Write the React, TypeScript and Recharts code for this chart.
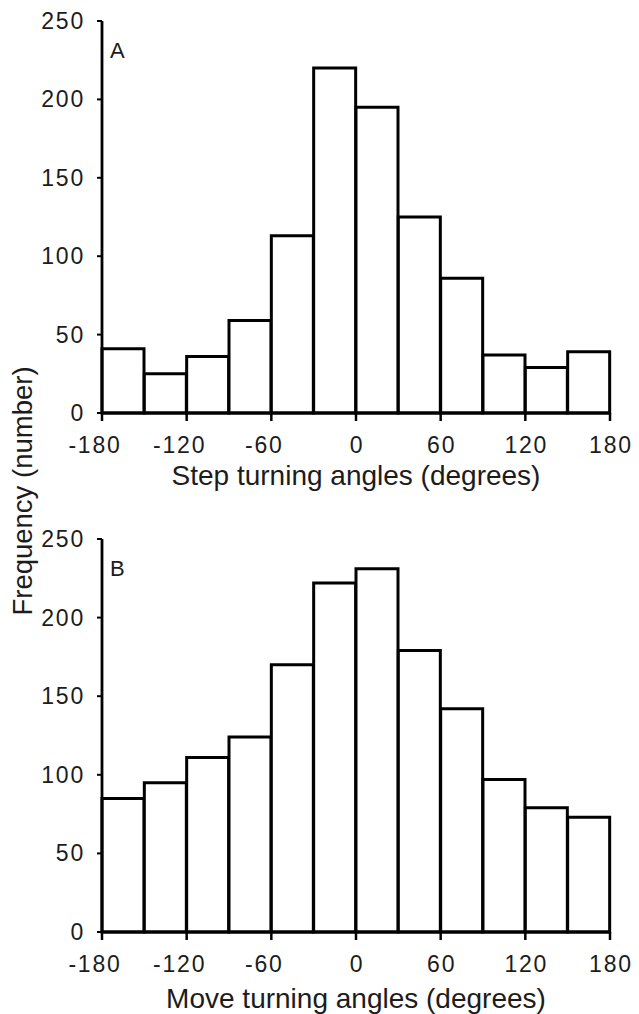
import React from "react";
import { BarChart, Bar, XAxis, YAxis } from "recharts";

const binLabels = [
  "-180–-150", "-150–-120", "-120–-90", "-90–-60", "-60–-30", "-30–0",
  "0–30", "30–60", "60–90", "90–120", "120–150", "150–180",
];
const stepCounts = [41, 25, 36, 59, 113, 220, 195, 125, 86, 37, 29, 39];
const moveCounts = [85, 95, 111, 124, 170, 222, 231, 179, 142, 97, 79, 73];
const angleTicks = [-180, -120, -60, 0, 60, 120, 180];
const freqTicks = [0, 50, 100, 150, 200, 250];

const FONT = "'Liberation Sans', Arial, Helvetica, sans-serif";
const INK = "#1c1c1c";

const stepData = binLabels.map((bin, i) => ({ bin, count: stepCounts[i] }));
const moveData = binLabels.map((bin, i) => ({ bin, count: moveCounts[i] }));

function AngleLabel({ x, y, value }: { x: number; y: number; value: number }) {
  return (
    <g>
      <line x1={x} y1={y} x2={x} y2={y + 8} stroke="#000" strokeWidth={2.5} />
      <text
        x={x}
        y={y + 40}
        dx={value < 0 ? -7 : 1}
        textAnchor="middle"
        fontSize={23}
        fontFamily={FONT}
        fill={INK}
        letterSpacing={1.8}
      >
        {value}
      </text>
    </g>
  );
}

function XTick(props: any) {
  const { x, y, payload, index, visibleTicksCount, width } = props;
  const count = visibleTicksCount || binLabels.length;
  const half =
    payload && payload.offset ? payload.offset : (width || 0) / count / 2;
  const items: React.ReactNode[] = [];
  if (index % 2 === 0) {
    items.push(<AngleLabel key="l" x={x - half} y={y} value={angleTicks[index / 2]} />);
  }
  if (index === count - 1) {
    items.push(
      <AngleLabel key="r" x={x + half} y={y} value={angleTicks[angleTicks.length - 1]} />
    );
  }
  return <g>{items}</g>;
}

function YTick(props: any) {
  const { x, y, payload } = props;
  return (
    <g>
      <line x1={x - 5} y1={y} x2={x} y2={y} stroke="#000" strokeWidth={2} />
      <text
        x={x - 17}
        y={y + 8}
        textAnchor="end"
        fontSize={23}
        fontFamily={FONT}
        fill={INK}
        letterSpacing={1.8}
      >
        {payload.value}
      </text>
    </g>
  );
}

function PanelLetter(letter: string) {
  return (props: any) => {
    const vb = props.viewBox || {};
    return (
      <text
        x={vb.x + vb.width + 8}
        y={vb.y + 37}
        fontSize={22}
        fontFamily={FONT}
        fill={INK}
      >
        {letter}
      </text>
    );
  };
}

function Panel(props: {
  data: { bin: string; count: number }[];
  height: number;
  top: number;
  xHeight: number;
  title: string;
  titleOffset: number;
  letter: string;
}) {
  const { data, height, top, xHeight, title, titleOffset, letter } = props;
  return (
    <BarChart
      width={639}
      height={height}
      data={data}
      margin={{ top, right: 29, bottom: 0, left: 0 }}
      barCategoryGap={0}
      barGap={0}
    >
      <XAxis
        dataKey="bin"
        type="category"
        interval={0}
        height={xHeight}
        padding={{ left: 0, right: 0 }}
        axisLine={{ stroke: "#000", strokeWidth: 2.8 }}
        tickLine={false}
        tickSize={0}
        tickMargin={0}
        tick={<XTick />}
        label={{
          value: title,
          position: "insideBottom",
          offset: titleOffset,
          style: { fontSize: 28, fill: INK, fontFamily: FONT, textAnchor: "middle" },
        }}
      />
      <YAxis
        width={102}
        domain={[0, 250]}
        ticks={freqTicks}
        interval={0}
        axisLine={{ stroke: "#000", strokeWidth: 2.8 }}
        tickLine={false}
        tickSize={0}
        tickMargin={0}
        tick={<YTick />}
        label={{ content: PanelLetter(letter) }}
      />
      <Bar
        dataKey="count"
        fill="#ffffff"
        stroke="#000"
        strokeWidth={3}
        isAnimationActive={false}
      />
    </BarChart>
  );
}

export default function App() {
  return (
    <div
      style={{
        position: "absolute",
        left: 0,
        top: 0,
        width: 639,
        height: 1014,
        background: "#fff",
        fontFamily: FONT,
      }}
    >
      <div style={{ position: "absolute", left: 0, top: 0 }}>
        <Panel
          data={stepData}
          height={500}
          top={21}
          xHeight={87}
          title="Step turning angles (degrees)"
          titleOffset={15}
          letter="A"
        />
      </div>
      <div style={{ position: "absolute", left: 0, top: 500 }}>
        <Panel
          data={moveData}
          height={514}
          top={39}
          xHeight={82}
          title="Move turning angles (degrees)"
          titleOffset={6}
          letter="B"
        />
      </div>
      <svg
        width={639}
        height={1014}
        style={{ position: "absolute", left: 0, top: 0, pointerEvents: "none" }}
      >
        <text
          x={32}
          y={491}
          transform="rotate(-90, 32, 491)"
          textAnchor="middle"
          fontSize={27.5}
          fontFamily={FONT}
          fill={INK}
        >
          Frequency (number)
        </text>
      </svg>
    </div>
  );
}
